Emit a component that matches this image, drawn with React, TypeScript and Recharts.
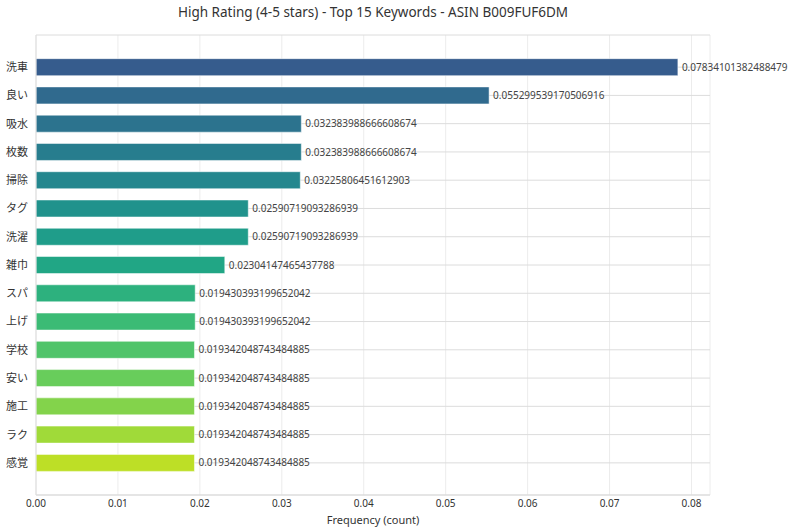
import React from 'react'
import {Bar, BarChart, CartesianGrid, Cell, LabelList, XAxis, YAxis} from 'recharts';

const keywords = ['洗車', '良い', '吸水', '枚数', '掃除', 'タグ', '洗濯', '雑巾', 'スパ', '上げ', '学校', '安い', '施工', 'ラク', '感覚'];

// kept as text so the labels print exactly as in the source
const frequencies = [
    '0.07834101382488479',
    '0.055299539170506916',
    '0.032383988666608674',
    '0.032383988666608674',
    '0.03225806451612903',
    '0.02590719093286939',
    '0.02590719093286939',
    '0.02304147465437788',
    '0.019430393199652042',
    '0.019430393199652042',
    '0.019342048743484885',
    '0.019342048743484885',
    '0.019342048743484885',
    '0.019342048743484885',
    '0.019342048743484885',
];

const xTicks = [0, 0.01, 0.02, 0.03, 0.04, 0.05, 0.06, 0.07, 0.08];

// viridis, from dark blue to yellow-green
const barColors = [
    '#365c8d', '#306a8e', '#2c738e', '#277d8e', '#24878e',
    '#20928c', '#1f9d8a', '#21a685', '#2db17e', '#3bbb75',
    '#50c46a', '#68cd5b', '#83d34b', '#a0da39', '#bddf26',
];

const title = 'High Rating (4-5 stars) - Top 15 Keywords - ASIN B009FUF6DM';

const data = keywords.map((k, i) => ({keyword: k, value: Number(frequencies[i]), text: frequencies[i]}));

const frame = '#dddddd';

export default function App() {
    return (
        <div style={{position: 'absolute', left: 0, top: 0, width: 800, height: 532, fontFamily: '"Noto Sans", "Noto Sans CJK JP", sans-serif'}}>
            <div style={{position: 'absolute', left: 36, width: 674, top: 3, textAlign: 'center', fontSize: 13.5, color: '#333'}}>
                {title}
            </div>
            <BarChart
                width={800}
                height={532}
                data={data}
                layout="vertical"
                barCategoryGap="20%"
                margin={{top: 35, right: 90, bottom: 0, left: 0}}>

                <CartesianGrid xAxisId="x" yAxisId="y" horizontal={false} stroke="#ececec"/>
                <CartesianGrid xAxisId="x" yAxisId="y" vertical={false} stroke="#dcdcdc"/>

                <XAxis
                    xAxisId="x"
                    type="number"
                    domain={[0, 0.08226]}
                    ticks={xTicks}
                    tickFormatter={(v: number) => v.toFixed(2)}
                    height={37}
                    tickSize={4}
                    tickMargin={1}
                    tickLine={false}
                    axisLine={{stroke: frame}}
                    tick={{fontSize: 10, fill: '#333'}}
                    label={{value: 'Frequency (count)', position: 'insideBottom', offset: 8, fontSize: 11, fill: '#333'}}
                />
                <XAxis
                    xAxisId="top"
                    orientation="top"
                    type="number"
                    domain={[0, 1]}
                    height={0}
                    tick={false}
                    tickLine={false}
                    axisLine={{stroke: frame}}
                />
                <YAxis
                    yAxisId="y"
                    type="category"
                    dataKey="keyword"
                    width={36}
                    padding={{top: 18, bottom: 18}}
                    tickLine={false}
                    axisLine={{stroke: frame}}
                    interval={0}
                    tick={{fontSize: 11, fill: '#333'}}
                />
                <YAxis
                    yAxisId="right"
                    orientation="right"
                    type="number"
                    domain={[0, 1]}
                    width={0}
                    tick={false}
                    tickLine={false}
                    axisLine={{stroke: frame}}
                />

                <Bar
                    xAxisId="x"
                    yAxisId="y"
                    dataKey="value"
                    stroke="#ffffff"
                    strokeOpacity={0.5}
                    strokeWidth={1}
                    isAnimationActive={false}>
                    {data.map((d, i) => <Cell key={d.keyword} fill={barColors[i]}/>)}
                    <LabelList
                        dataKey="text"
                        position="right"
                        offset={4}
                        fontSize={10}
                        fill="#444"
                    />
                </Bar>
            </BarChart>
        </div>
    )
};
